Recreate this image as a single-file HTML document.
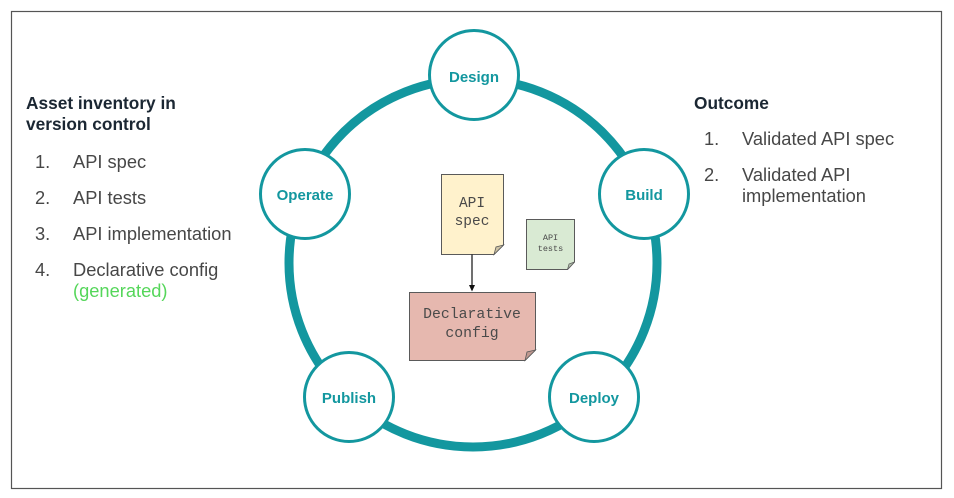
<!DOCTYPE html>
<html>
<head>
<meta charset="utf-8">
<style>
  html,body{margin:0;padding:0;background:#fff;}
  body{width:954px;height:498px;overflow:hidden;}
  svg{display:block;}
  .h{font-family:"Liberation Sans",Arial,sans-serif;font-weight:bold;font-size:17.3px;fill:#1b2733;}
  .t{font-family:"Liberation Sans",Arial,sans-serif;font-size:18.3px;fill:#474747;}
  .g{font-family:"Liberation Sans",Arial,sans-serif;font-size:18.3px;fill:#55d65a;}
  .c{font-family:"Liberation Sans",Arial,sans-serif;font-weight:bold;font-size:15px;fill:#13979f;}
  .m{font-family:"Liberation Mono","Courier New",monospace;fill:#4a4a4a;}
</style>
</head>
<body>
<svg width="954" height="498" viewBox="0 0 954 498" xmlns="http://www.w3.org/2000/svg">
  <rect x="0" y="0" width="954" height="498" fill="#fff"/>
  <rect x="11.5" y="11.5" width="930" height="477" fill="none" stroke="#555" stroke-width="1.2"/>

  <!-- Left text -->
  <text class="h" x="26" y="109">Asset inventory in</text>
  <text class="h" x="26" y="130">version control</text>
  <text class="t" x="35" y="168">1.</text><text class="t" x="73" y="168">API spec</text>
  <text class="t" x="35" y="204">2.</text><text class="t" x="73" y="204">API tests</text>
  <text class="t" x="35" y="240">3.</text><text class="t" x="73" y="240">API implementation</text>
  <text class="t" x="35" y="276">4.</text><text class="t" x="73" y="276">Declarative config</text>
  <text class="g" x="73" y="297">(generated)</text>

  <!-- Right text -->
  <text class="h" x="694" y="109">Outcome</text>
  <text class="t" x="704" y="145">1.</text><text class="t" x="742" y="145">Validated API spec</text>
  <text class="t" x="704" y="181">2.</text><text class="t" x="742" y="181">Validated API</text>
  <text class="t" x="742" y="202">implementation</text>

  <!-- Ring -->
  <circle cx="473" cy="263" r="184" fill="none" stroke="#13979f" stroke-width="9"/>

  <!-- Stage circles -->
  <g fill="#fff" stroke="#13979f" stroke-width="3">
    <circle cx="474" cy="75" r="44.5"/>
    <circle cx="644" cy="194" r="44.5"/>
    <circle cx="305" cy="194" r="44.5"/>
    <circle cx="349" cy="397" r="44.5"/>
    <circle cx="594" cy="397" r="44.5"/>
  </g>
  <g text-anchor="middle">
    <text class="c" x="474" y="82">Design</text>
    <text class="c" x="644" y="200">Build</text>
    <text class="c" x="305" y="200">Operate</text>
    <text class="c" x="349" y="403">Publish</text>
    <text class="c" x="594" y="403">Deploy</text>
  </g>

  <!-- API spec doc -->
  <polygon points="441.5,174.5 503.5,174.5 503.5,245 494,254.5 441.5,254.5" fill="#fff2cc" stroke="#5a5a5a" stroke-width="1"/>
  <polygon points="494,254.5 503.5,245 496,247" fill="#cdc2a4" stroke="#5a5a5a" stroke-width="0.8"/>
  <text class="m" x="472" y="207" font-size="14.5" text-anchor="middle">API</text>
  <text class="m" x="472" y="225" font-size="14.5" text-anchor="middle">spec</text>

  <!-- Arrow -->
  <line x1="472" y1="254.5" x2="472" y2="286" stroke="#111" stroke-width="1.2"/>
  <polygon points="469,285 475,285 472,291.5" fill="#111"/>

  <!-- API tests doc -->
  <polygon points="526.5,219.5 574.5,219.5 574.5,262 567.5,269.5 526.5,269.5" fill="#d9ead3" stroke="#5a5a5a" stroke-width="1"/>
  <polygon points="567.5,269.5 574.5,262 569,264" fill="#b3c0ad" stroke="#5a5a5a" stroke-width="0.7"/>
  <text class="m" x="550.5" y="240" font-size="8.5" text-anchor="middle">API</text>
  <text class="m" x="550.5" y="251" font-size="8.5" text-anchor="middle">tests</text>

  <!-- Declarative config doc -->
  <polygon points="409.5,292.5 535.5,292.5 535.5,350 525,360.5 409.5,360.5" fill="#e6b8af" stroke="#5a5a5a" stroke-width="1"/>
  <polygon points="525,360.5 535.5,350 527,352" fill="#bf9890" stroke="#5a5a5a" stroke-width="0.8"/>
  <text class="m" x="472" y="318" font-size="14.8" text-anchor="middle">Declarative</text>
  <text class="m" x="472" y="337" font-size="14.8" text-anchor="middle">config</text>
</svg>
</body>
</html>
